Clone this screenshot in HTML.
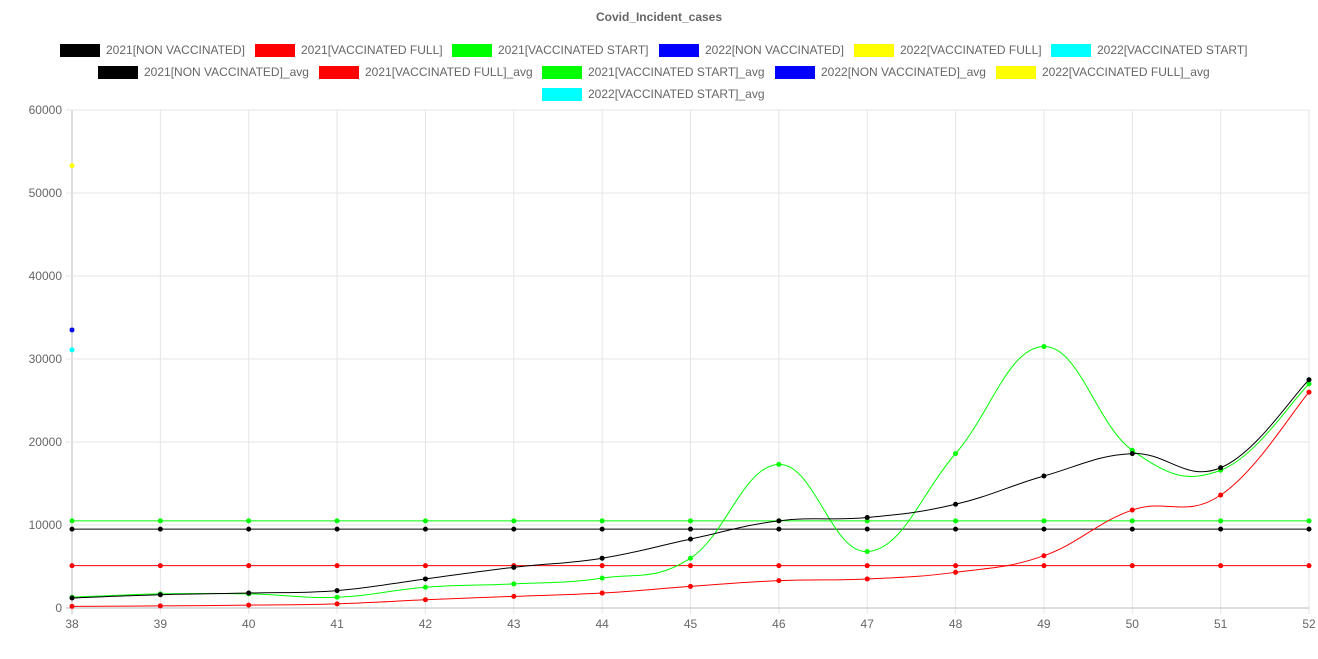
<!DOCTYPE html>
<html><head><meta charset="utf-8"><style>
html,body{margin:0;padding:0;background:#fff;}
svg{display:block;font-family:"Liberation Sans",Arial,sans-serif;}
</style></head><body>
<svg id="s" width="1318" height="659" xmlns="http://www.w3.org/2000/svg">
<text x="659" y="21" text-anchor="middle" font-size="12" font-weight="bold" fill="#666">Covid_Incident_cases</text>
<g font-size="12" fill="#666">
<rect x="60" y="44" width="40" height="13" fill="#000"/><text x="106" y="54">2021[NON VACCINATED]</text>
<rect x="255" y="44" width="40" height="13" fill="#f00"/><text x="301" y="54">2021[VACCINATED FULL]</text>
<rect x="452" y="44" width="40" height="13" fill="#0f0"/><text x="498" y="54">2021[VACCINATED START]</text>
<rect x="659" y="44" width="40" height="13" fill="#00f"/><text x="705" y="54">2022[NON VACCINATED]</text>
<rect x="854" y="44" width="40" height="13" fill="#ff0"/><text x="900" y="54">2022[VACCINATED FULL]</text>
<rect x="1051" y="44" width="40" height="13" fill="#0ff"/><text x="1097" y="54">2022[VACCINATED START]</text>
<rect x="98" y="66" width="40" height="13" fill="#000"/><text x="144" y="76">2021[NON VACCINATED]_avg</text>
<rect x="319" y="66" width="40" height="13" fill="#f00"/><text x="365" y="76">2021[VACCINATED FULL]_avg</text>
<rect x="542" y="66" width="40" height="13" fill="#0f0"/><text x="588" y="76">2021[VACCINATED START]_avg</text>
<rect x="775" y="66" width="40" height="13" fill="#00f"/><text x="821" y="76">2022[NON VACCINATED]_avg</text>
<rect x="996" y="66" width="40" height="13" fill="#ff0"/><text x="1042" y="76">2022[VACCINATED FULL]_avg</text>
<rect x="542" y="88" width="40" height="13" fill="#0ff"/><text x="588" y="98">2022[VACCINATED START]_avg</text>
</g>
<g id="g"></g>
</svg>
<script>
var ns="http://www.w3.org/2000/svg",g=document.getElementById('g');
function el(t,a,txt){var e=document.createElementNS(ns,t);for(var k in a)e.setAttribute(k,a[k]);if(txt!=null)e.textContent=txt;g.appendChild(e);return e;}
var X0=72,DX=(1309-72)/14,Y0=608,SY=498/60000;
function X(i){return X0+i*DX;}function Y(v){return Y0-v*SY;}
for(var i=0;i<=14;i++){el('line',{x1:X(i),x2:X(i),y1:110,y2:614,stroke:i?'#e5e5e5':'#bbb'});el('text',{x:X(i),y:628,'text-anchor':'middle','font-size':12,fill:'#666'},38+i);}
for(var v=0;v<=60000;v+=10000){el('line',{x1:66,x2:1309,y1:Y(v),y2:Y(v),stroke:v?'#e5e5e5':'#bbb'});el('text',{x:62,y:Y(v)+4,'text-anchor':'end','font-size':12,fill:'#666'},v);}
function curve(d,c){var p=d.map(function(v,i){return[X(i),Y(v)]});var s='M'+p[0][0]+','+p[0][1];var t=0.4;
for(var i=0;i<p.length-1;i++){var a=p[Math.max(i-1,0)],b=p[i],c2=p[i+1],e=p[Math.min(i+2,p.length-1)];
var c1x=b[0]+(c2[0]-a[0])*t/2,c1y=b[1]+(c2[1]-a[1])*t/2,c3x=c2[0]-(e[0]-b[0])*t/2,c3y=c2[1]-(e[1]-b[1])*t/2;
s+=' C'+c1x+','+c1y+' '+c3x+','+c3y+' '+c2[0]+','+c2[1];}
el('path',{d:s,fill:'none',stroke:c,'stroke-width':1});p.forEach(function(q){el('circle',{cx:q[0],cy:q[1],r:2.5,fill:c});});}
var N=15;function flat(v){var a=[];for(var i=0;i<N;i++)a.push(v);return a;}
curve(flat(10500),'#0f0');curve(flat(9500),'#000');curve(flat(5100),'#f00');
curve([1300,1700,1700,1300,2500,2900,3600,6000,17300,6800,18600,31500,19000,16600,27000],'#0f0');
curve([200,250,350,500,1000,1400,1800,2600,3300,3500,4300,6300,11800,13600,26000],'#f00');
curve([1200,1600,1800,2100,3500,4900,6000,8300,10500,10900,12500,15900,18600,16900,27500],'#000');
el('circle',{cx:X0,cy:Y(53300),r:2.5,fill:'#ff0'});el('circle',{cx:X0,cy:Y(33500),r:2.5,fill:'#00f'});el('circle',{cx:X0,cy:Y(31100),r:2.5,fill:'#0ff'});
</script>
</body></html>
